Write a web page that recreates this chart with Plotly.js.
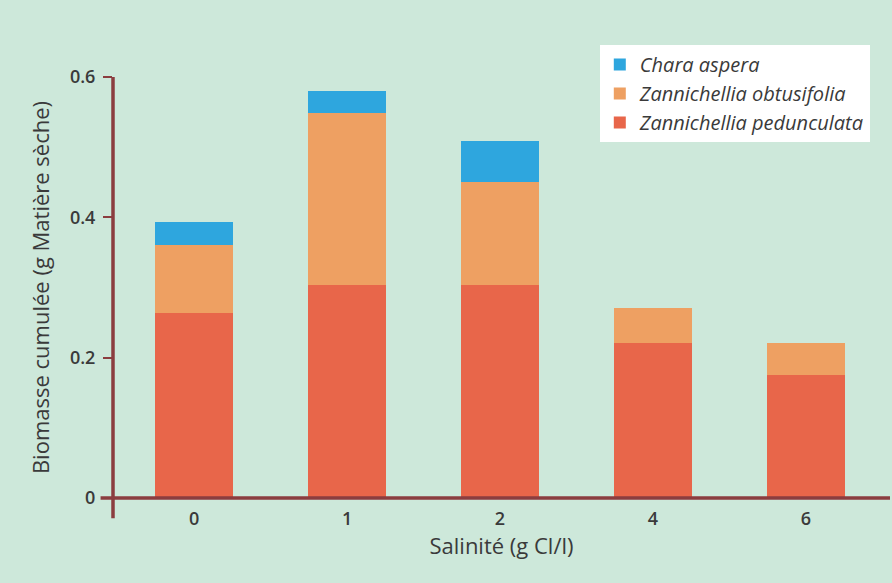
<!DOCTYPE html>
<html>
<head>
<meta charset="utf-8">
<script src="https://cdn.plot.ly/plotly-3.0.1.min.js"></script>
<style>html,body{margin:0;padding:0;background:#cde8da;}</style>
</head>
<body>
<div id="chart" style="width:892px;height:583px;"></div>
<script>
const categories = ["0", "1", "2", "4", "6"];
const pedunculata = [0.264, 0.304, 0.304, 0.221, 0.175];
const obtusifolia = [0.097, 0.245, 0.146, 0.050, 0.046];
const chara = [0.032, 0.031, 0.059, 0, 0];
const yTicks = [0, 0.2, 0.4, 0.6];
const yTickLabels = ["0", "0.2", "0.4", "0.6"];

const axisColor = "#8b3d3f";
const textColor = "#3a3a3a";

const traces = [
  {type: "bar", name: "<i>Zannichellia pedunculata</i>", x: categories, y: pedunculata,
   marker: {color: "#e8664a"}},
  {type: "bar", name: "<i>Zannichellia obtusifolia</i>", x: categories, y: obtusifolia,
   marker: {color: "#eea062"}},
  {type: "bar", name: "<i>Chara aspera</i>", x: categories, y: chara,
   marker: {color: "#2ea6de"}}
];

const layout = {
  width: 892, height: 583,
  barmode: "stack",
  bargap: 0.49,
  paper_bgcolor: "#cde8da",
  plot_bgcolor: "#cde8da",
  font: {family: "Open Sans, Noto Sans, sans-serif", color: textColor, size: 18},
  margin: {l: 113, r: 2, t: 77, b: 85},
  showlegend: true,
  legend: {
    x: 0.974, xanchor: "right", y: 1.076, yanchor: "top",
    bgcolor: "#ffffff", borderwidth: 0,
    font: {size: 20, color: textColor},
    tracegroupgap: 0, itemwidth: 30
  },
  xaxis: {
    type: "category",
    range: [-0.53, 4.55],
    showline: false, zeroline: false, showgrid: false,
    ticks: "", ticklabelstandoff: 8,
    tickfont: {size: 18, color: textColor, weight: 600},
    title: {text: "Salinité (g Cl/l)", font: {size: 22, color: textColor}, standoff: 6}
  },
  yaxis: {
    range: [0, 0.6],
    tickvals: yTicks, ticktext: yTickLabels,
    showline: false, zeroline: false, showgrid: false,
    ticks: "outside", ticklen: 9, tickwidth: 2, tickcolor: axisColor,
    ticklabelstandoff: 4,
    tickfont: {size: 18, color: textColor, weight: 600},
    title: {text: "Biomasse cumulée (g Matière sèche)", font: {size: 22, color: textColor}, standoff: 14}
  },
  shapes: [
    {type: "line", xref: "paper", yref: "paper", x0: 0, x1: 0, y0: -0.048, y1: 1.0,
     line: {color: axisColor, width: 3.5}},
    {type: "line", xref: "paper", yref: "paper", x0: -0.016, x1: 1.0, y0: 0, y1: 0,
     line: {color: axisColor, width: 3.5}}
  ]
};

Plotly.newPlot("chart", traces, layout, {displayModeBar: false, staticPlot: true});
</script>
</body>
</html>
